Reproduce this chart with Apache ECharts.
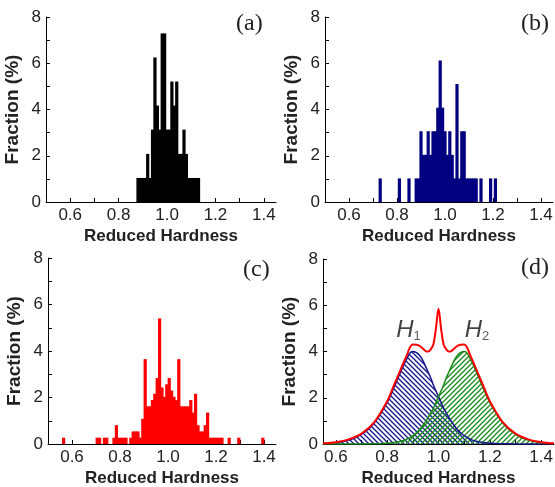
<!DOCTYPE html>
<html><head><meta charset="utf-8">
<script src="https://cdn.jsdelivr.net/npm/echarts@6/dist/echarts.min.js"></script>
<style>html,body{margin:0;padding:0;background:#fff}#c{width:555px;height:487px}</style>
</head><body><div id="c"></div>
<script>
// ---- data ----
const xLabelVals = [0.6, 0.8, 1.0, 1.2, 1.4];
const xTickVals = [0.6, 0.7, 0.8, 0.9, 1.0, 1.1, 1.2, 1.3, 1.4];
const yTickVals = [0, 1, 2, 3, 4, 5, 6, 7, 8];

// (a) black histogram
const binsA = [0.88,0.89,0.90,0.91,0.92,0.93,0.94,0.95,0.96,0.97,0.98,0.99,1.00,1.01,1.02,1.03,1.04,1.05,1.06,1.07,1.08,1.09,1.10,1.11,1.12,1.13];
const fracA = [1.04,1.04,1.04,1.04,2.08,1.04,3.13,6.25,4.17,3.13,7.29,7.29,3.13,3.13,5.21,4.17,5.21,2.08,2.08,3.13,2.08,1.04,1.04,1.04,1.04,1.04];

// (b) navy histogram
const binsB = [0.73,0.81,0.85,0.88,0.89,0.90,0.91,0.92,0.93,0.94,0.95,0.96,0.97,0.98,0.99,1.00,1.01,1.02,1.03,1.04,1.05,1.06,1.07,1.08,1.09,1.10,1.11,1.12,1.13,1.15,1.19,1.21];
const fracB = [1.02,1.02,1.02,1.02,1.02,3.06,2.04,2.04,3.06,2.04,3.06,3.06,4.08,6.12,4.08,3.06,2.04,3.06,2.04,1.02,5.10,1.02,3.06,3.06,1.02,1.02,1.02,1.02,1.02,1.02,1.02,1.02];

// (c) red histogram
const binsC = [0.565,0.705,0.715,0.735,0.745,0.775,0.785,0.795,0.805,0.815,0.825,0.845,0.855,0.865,0.875,0.885,0.895,0.905,0.915,0.925,0.935,0.945,0.955,0.965,0.975,0.985,0.995,1.005,1.015,1.025,1.035,1.045,1.055,1.065,1.075,1.085,1.095,1.105,1.115,1.125,1.135,1.145,1.155,1.165,1.175,1.185,1.195,1.205,1.215,1.225,1.255,1.295,1.395];
const fracC = [0.27,0.27,0.27,0.27,0.27,0.27,0.81,0.27,0.27,0.27,0.27,0.27,0.54,0.54,0.54,0.27,1.08,3.65,1.62,1.62,1.89,2.16,2.84,5.40,2.43,2.03,2.57,2.84,2.30,2.03,1.89,3.65,1.62,1.62,1.62,1.62,1.89,1.35,2.16,0.81,0.54,0.54,0.81,1.35,0.27,0.27,0.27,0.27,0.27,0.27,0.27,0.27,0.27];

// (d) fitted curves
const dX   = [0.55,0.60,0.65,0.70,0.75,0.80,0.825,0.85,0.875,0.90,0.925,0.95,0.96,0.97,0.98,0.99,1.00,1.01,1.02,1.03,1.04,1.05,1.075,1.10,1.125,1.15,1.175,1.20,1.25,1.30,1.35,1.40,1.45];
const dRed = [0.03,0.08,0.20,0.45,0.95,1.85,2.50,3.15,3.80,4.30,4.25,4.02,4.00,4.10,4.30,5.00,5.85,5.00,4.30,4.10,4.00,4.02,4.25,4.30,3.80,3.15,2.50,1.85,0.95,0.45,0.20,0.08,0.03];
const dH1  = [0.02,0.06,0.17,0.42,0.92,1.80,2.40,3.05,3.65,4.00,3.85,3.35,3.10,2.85,2.55,2.30,2.05,1.80,1.55,1.35,1.15,0.98,0.60,0.36,0.20,0.11,0.06,0.03,0.01,0,0,0,0];
const dH2  = [0,0,0,0,0.01,0.03,0.06,0.11,0.20,0.36,0.60,0.98,1.15,1.35,1.55,1.80,2.05,2.30,2.55,2.85,3.10,3.35,3.85,4.00,3.65,3.05,2.40,1.80,0.92,0.42,0.17,0.06,0.02];
const hLabels = [[0.883, 4.9, '1'], [1.15, 4.9, '2']];
</script>
<script>
const FONT = 'Liberation Sans, Arial, sans-serif';
const chart = echarts.init(document.getElementById('c'), null, {renderer: 'canvas'});

function hatch(color, dir) {
  const s = 5, c = document.createElement('canvas');
  c.width = s; c.height = s;
  const g = c.getContext('2d');
  g.strokeStyle = color; g.lineWidth = 1.3;
  g.beginPath();
  if (dir > 0) { // '/'
    g.moveTo(0, s); g.lineTo(s, 0);
    g.moveTo(-1, 1); g.lineTo(1, -1);
    g.moveTo(s - 1, s + 1); g.lineTo(s + 1, s - 1);
  } else { // '\'
    g.moveTo(0, 0); g.lineTo(s, s);
    g.moveTo(-1, s - 1); g.lineTo(1, s + 1);
    g.moveTo(s - 1, -1); g.lineTo(s + 1, 1);
  }
  g.stroke();
  return c;
}

const grids = [
  {left: 46, top: 17, width: 230, height: 185},
  {left: 325, top: 17, width: 228, height: 185},
  {left: 48, top: 258, width: 228, height: 186},
  {left: 323, top: 259, width: 231, height: 185}
].map(g => Object.assign({containLabel: false, outerBoundsMode: 'none'}, g));

function xAx(i, min) {
  return {
    type: 'value', gridIndex: i, min: min, max: 1.45,
    axisLine: {show: true, onZero: false, lineStyle: {color: '#000', width: 1}},
    axisTick: {show: true, inside: true, length: 4, customValues: xTickVals, lineStyle: {color: '#000'}},
    axisLabel: {show: true, customValues: xLabelVals, formatter: v => Number(v).toFixed(1),
      fontSize: 17, color: '#222', fontFamily: FONT, margin: 5},
    splitLine: {show: false},
    name: 'Reduced Hardness', nameLocation: 'middle', nameGap: 26,
    nameTextStyle: {fontWeight: 'bold', fontSize: 17, color: '#222', fontFamily: FONT}
  };
}
function yAx(i) {
  return {
    type: 'value', gridIndex: i, min: 0, max: 8, interval: 2,
    axisLine: {show: true, lineStyle: {color: '#000', width: 1}},
    axisTick: {show: true, inside: true, length: 4, customValues: yTickVals, lineStyle: {color: '#000'}},
    axisLabel: {show: true, fontSize: 17, color: '#222', fontFamily: FONT, margin: 5},
    splitLine: {show: false},
    name: 'Fraction (%)', nameLocation: 'middle', nameGap: 24,
    nameTextStyle: {fontWeight: 'bold', fontSize: 19, color: '#222', fontFamily: FONT}
  };
}

function histSeries(i, bins, fracs, binW, color) {
  return {
    type: 'custom', xAxisIndex: i, yAxisIndex: i, clip: true,
    data: bins.map((b, k) => [b, fracs[k]]),
    renderItem: function (params, api) {
      const x = api.value(0), y = api.value(1);
      const p0 = api.coord([x - binW / 2, y]);
      const p1 = api.coord([x + binW / 2, 0]);
      return {type: 'rect',
        shape: {x: p0[0] - 0.4, y: p0[1], width: p1[0] - p0[0] + 0.8, height: p1[1] - p0[1]},
        style: {fill: color}};
    }
  };
}

const blue = '#14148c', green = '#188a18', red = '#ff0000';

const option = {
  animation: false,
  backgroundColor: '#fff',
  grid: grids,
  xAxis: [xAx(0, 0.5), xAx(1, 0.5), xAx(2, 0.5), xAx(3, 0.55)],
  yAxis: [yAx(0), yAx(1), yAx(2), yAx(3)],
  series: [
    histSeries(0, binsA, fracA, 0.01, '#000000'),
    histSeries(1, binsB, fracB, 0.01, '#000080'),
    histSeries(2, binsC, fracC, 0.01, red),
    {
      type: 'line', xAxisIndex: 3, yAxisIndex: 3, smooth: 0.5, symbol: 'none', z: 2,
      data: dX.map((x, k) => [x, dH1[k]]),
      lineStyle: {color: blue, width: 1.5},
      areaStyle: {color: {image: hatch(blue, -1), repeat: 'repeat'}, opacity: 1}
    },
    {
      type: 'line', xAxisIndex: 3, yAxisIndex: 3, smooth: 0.5, symbol: 'none', z: 2,
      data: dX.map((x, k) => [x, dH2[k]]),
      lineStyle: {color: green, width: 1.5},
      areaStyle: {color: {image: hatch(green, 1), repeat: 'repeat'}, opacity: 1}
    },
    {
      type: 'line', xAxisIndex: 3, yAxisIndex: 3, smooth: 0.35, symbol: 'none', z: 3,
      data: dX.map((x, k) => [x, dRed[k]]),
      lineStyle: {color: red, width: 2}
    },
    {
      type: 'scatter', xAxisIndex: 3, yAxisIndex: 3, symbolSize: 1, z: 4,
      itemStyle: {color: 'transparent'},
      data: hLabels.map(h => ({value: [h[0], h[1]], sub: h[2]})),
      label: {
        show: true, position: 'inside',
        formatter: p => '{h|H}{s|' + p.data.sub + '}',
        rich: {
          h: {fontFamily: FONT, fontStyle: 'italic', fontSize: 24, color: '#111'},
          s: {fontFamily: FONT, fontSize: 13, color: '#333', verticalAlign: 'bottom', padding: [9, 0, 0, 0]}
        }
      }
    }
  ],
  graphic: [
    {type: 'text', left: 236, top: 12, style: {text: '(a)', font: '24px "Liberation Serif", serif', fill: '#222'}},
    {type: 'text', left: 521, top: 12, style: {text: '(b)', font: '24px "Liberation Serif", serif', fill: '#222'}},
    {type: 'text', left: 243, top: 258, style: {text: '(c)', font: '24px "Liberation Serif", serif', fill: '#222'}},
    {type: 'text', left: 521, top: 256, style: {text: '(d)', font: '24px "Liberation Serif", serif', fill: '#222'}}
  ]
};
chart.setOption(option);
</script>
</body></html>
